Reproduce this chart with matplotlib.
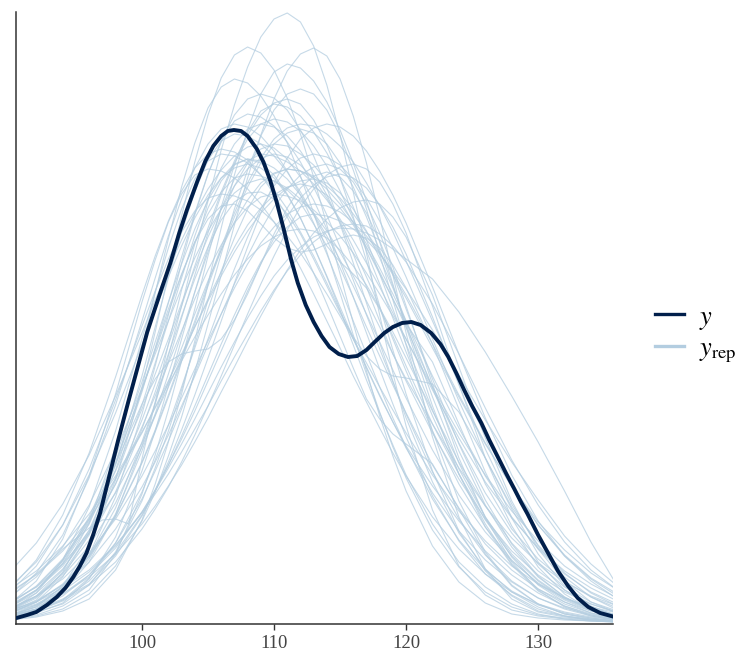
import matplotlib
matplotlib.use("Agg")
import matplotlib.pyplot as plt
from matplotlib.lines import Line2D

# densities are in units of 1e-4
# observed y
y_x = [90.5, 91.3, 92.0, 92.8, 93.55, 94.2, 94.8, 95.3, 95.8, 96.3, 96.83, 97.6, 98.2, 99.0,
       99.7, 100.4, 101.3, 102.15, 102.8, 103.4, 104.2, 104.8, 105.4, 106.0, 106.5, 106.96,
       107.5, 108.0, 108.7, 109.2, 109.7, 110.2, 110.75, 111.3, 111.8, 112.4, 113.0, 113.6,
       114.2, 114.9, 115.6, 116.3, 117.0, 117.7, 118.35, 119.0, 119.7, 120.4, 121.1, 121.9,
       122.6, 123.2, 123.8, 124.4, 125.0, 125.7, 126.3, 126.95, 127.6, 128.2, 128.7, 129.2,
       130.0, 130.75, 131.5, 132.27, 133.0, 133.8, 134.7, 135.8]
y_dens = [6, 9, 12, 19, 27, 36, 47, 58, 71, 89, 111, 152, 184, 224,
          258, 292, 328, 361, 390, 414, 443, 463, 478, 488, 493, 494,
          493, 488, 475, 462, 444, 422, 394, 364, 341, 319, 302, 288,
          277, 270, 267, 268, 274, 283, 291, 297, 301, 302, 299, 291,
          280, 267, 251, 234, 218, 201, 184, 167, 150, 135, 122, 110,
          89, 71, 53, 38, 26, 17, 11, 7]

# shared grid for the replicated densities
grid_x = [90, 92, 94, 96, 98, 100, 101, 102, 103, 104, 105, 106, 107, 108, 109, 110, 111,
          112, 113, 114, 115, 116, 117, 118, 119, 120, 122, 124, 126, 128, 130, 132, 134, 136]

rep01 = [7,15,32,62,109,178,220,268,318,371,423,474,519,557,587,605,611,602,578,539,489,432,371,309,251,198,114,58,29,14,8,5,3,2]
rep02 = [9,17,38,78,144,237,292,350,408,462,509,546,569,577,571,554,526,490,447,399,350,301,253,208,168,133,78,42,21,10,6,4,3,2]
rep03 = [5,8,15,30,58,103,132,168,207,252,300,349,399,446,489,525,553,570,576,568,545,508,461,407,349,291,187,107,55,25,12,7,4,2]
rep04 = [13,28,54,94,154,232,276,321,367,411,450,483,509,525,530,526,514,494,468,436,400,361,321,281,243,206,142,91,55,32,17,8,4,2]
rep05 = [9,19,37,68,116,182,221,263,306,349,391,429,461,485,500,505,502,493,478,458,433,405,373,340,306,272,208,150,104,68,43,25,14,8]
rep06 = [17,31,55,91,140,204,240,279,318,358,396,432,463,489,509,521,525,520,504,479,446,407,363,318,274,230,153,93,53,28,13,8,5,3]
rep07 = [8,15,34,69,127,210,258,309,361,409,450,482,503,510,507,498,482,462,437,409,377,344,309,275,242,210,152,105,69,43,26,15,8,4]
rep08 = [11,22,47,91,159,248,297,346,392,432,464,483,490,488,480,468,452,432,409,384,356,327,297,268,239,211,159,116,80,54,35,22,13,8]
rep09 = [11,22,39,67,107,161,192,227,263,300,338,374,407,437,461,480,491,495,491,480,461,437,407,374,338,300,227,161,107,67,39,22,11,5]
rep10 = [8,18,35,65,110,173,210,250,291,332,372,408,438,461,475,480,478,470,459,443,424,401,376,350,325,300,262,200,140,95,65,43,27,16]
rep11 = [13,31,64,117,193,285,332,376,415,445,463,470,468,461,449,434,415,392,368,341,313,285,257,229,202,176,131,93,64,42,26,16,9,5]
rep12 = [6,11,21,45,87,153,193,238,285,332,376,415,445,463,470,468,462,453,440,424,405,384,361,337,311,285,234,186,142,106,76,53,36,23]
rep13 = [8,15,28,49,81,125,153,183,215,250,285,321,355,387,415,438,455,466,470,467,459,445,426,403,376,347,285,223,166,117,79,51,31,18]
rep14 = [13,23,39,62,95,137,162,189,218,248,279,310,340,368,394,417,435,449,457,460,455,442,420,391,357,318,240,166,106,62,34,17,8,4]
rep15 = [17,34,63,107,167,242,282,322,360,395,424,446,460,465,463,456,445,429,410,388,364,338,310,282,254,226,174,129,92,63,41,26,16,9]
rep16 = [15,27,48,78,121,177,208,242,276,310,343,374,402,424,441,451,455,453,446,435,420,402,380,356,330,303,248,196,148,107,75,50,32,20]
rep17 = [20,43,85,148,230,322,364,402,430,449,455,453,446,435,420,402,380,356,330,303,276,248,222,196,171,148,107,75,50,32,20,12,7,4]
rep18 = [19,34,58,93,140,197,228,261,293,325,354,379,401,417,427,430,428,423,414,402,388,371,351,330,308,285,237,191,149,113,83,58,40,26]
rep19 = [22,37,60,91,131,181,209,237,267,297,325,352,377,399,416,429,437,440,437,429,416,399,377,352,325,297,237,181,131,91,60,37,22,13]
rep20 = [26,51,89,146,219,303,346,388,425,456,480,495,500,497,488,473,453,429,401,370,337,303,270,237,206,177,125,84,54,33,19,11,6,3]
rep21 = [9,17,30,49,76,112,134,159,185,213,243,273,303,333,360,386,408,426,439,447,450,446,436,419,397,370,307,239,175,120,78,47,27,14]
rep22 = [27,47,77,119,173,236,270,303,336,366,393,415,431,441,445,443,436,425,411,393,372,348,323,297,270,243,191,145,105,73,49,32,20,12]
rep23 = [16,28,45,71,105,148,173,199,226,255,283,310,336,360,381,397,410,417,420,418,412,402,388,371,351,329,280,229,181,137,99,69,46,30]
rep24 = [35,64,109,171,247,329,368,403,433,456,470,475,472,464,449,430,407,380,351,320,288,256,225,205,190,180,160,115,70,38,20,10,5,3]
rep25 = [11,19,30,47,70,100,118,138,159,182,206,232,257,283,308,332,354,374,391,405,416,422,424,420,407,387,329,257,186,123,75,43,22,11]
rep26 = [20,38,65,105,160,220,245,262,270,273,275,285,304,330,360,390,416,436,448,452,447,433,411,383,350,315,245,180,124,80,48,27,14,7]
rep28 = [12,20,33,52,78,112,133,156,180,205,231,257,282,306,328,348,364,377,387,393,396,395,391,384,375,365,345,312,272,228,182,133,82,38]
rep29 = [5,9,18,34,70,130,169,214,263,315,368,417,459,492,513,520,517,508,492,471,446,417,384,350,315,280,214,155,107,70,44,26,15,8]
rep30 = [35,53,78,110,148,192,216,240,263,287,309,330,349,365,378,387,393,395,393,386,374,358,339,316,292,266,213,162,118,81,53,34,20,11]
rep31 = [14,22,36,54,79,111,130,150,172,195,218,243,267,290,313,334,353,369,382,392,398,400,398,390,378,362,320,270,216,164,119,82,54,34]
rep32 = [12,24,52,101,177,276,331,385,437,481,516,537,545,541,528,508,481,448,411,372,331,289,250,212,177,146,94,57,32,17,9,6,4,2]
rep33 = [8,14,24,46,81,132,164,199,237,276,315,353,386,415,437,450,455,453,448,438,426,410,392,372,349,326,276,227,180,138,102,74,51,34]
rep34 = [13,26,51,89,146,219,261,303,346,388,425,456,480,495,500,497,488,473,453,429,401,370,337,303,270,245,200,150,100,60,35,20,11,6]
rep35 = [7,13,24,43,71,109,133,159,188,218,249,280,309,337,362,382,397,407,410,408,403,395,384,370,353,335,294,249,204,162,124,88,60,38]
rep36 = [37,62,99,149,211,279,314,347,378,406,429,446,456,460,456,446,429,406,378,347,314,279,244,211,179,149,100,62,37,20,10,5,3,2]
rep37 = [15,28,50,84,132,195,232,270,308,345,377,404,422,431,432,425,410,390,365,338,311,287,268,255,248,246,240,212,166,115,70,38,18,8]
rep38 = [7,12,20,39,72,123,156,193,234,279,324,370,415,454,488,514,530,535,530,514,488,454,415,370,324,279,193,123,72,39,20,10,6,3]
rep39 = [32,58,99,155,224,298,333,365,392,413,426,430,428,423,414,402,388,371,351,330,308,285,261,237,214,191,149,113,83,58,40,26,17,11]
rep40 = [9,15,25,40,68,108,134,162,194,229,266,303,341,377,411,441,466,485,496,500,497,488,473,453,429,401,337,270,206,149,103,68,43,25]
rep41 = [21,37,64,102,153,215,250,285,321,355,387,415,438,455,466,470,467,459,445,426,403,376,347,317,285,253,193,140,97,64,40,24,13,7]
rep42 = [17,33,61,104,162,234,273,311,349,382,410,432,446,450,448,443,434,421,400,378,362,350,336,315,288,258,200,156,118,86,61,42,28,18]
rep43 = [4,7,13,25,54,104,140,182,230,283,340,396,449,494,530,552,560,556,543,522,494,461,423,382,340,297,218,150,97,59,33,18,9,4]
rep44 = [32,49,73,105,145,191,217,243,270,297,323,348,372,393,411,425,436,443,445,441,431,415,393,366,336,303,236,173,119,77,47,27,14,7]
rep45 = [52,81,120,169,228,291,324,355,384,411,435,454,468,477,480,476,465,447,424,395,362,327,291,255,220,187,128,83,50,29,15,8,4,2]
rep46 = [11,22,40,68,108,162,194,229,266,303,341,377,411,441,466,485,496,500,498,490,478,462,441,418,392,363,303,244,188,139,99,68,45,28]
rep47 = [18,34,60,100,160,235,275,315,350,382,405,418,420,413,400,386,376,372,374,380,386,389,386,376,359,336,280,215,152,98,57,30,14,6]
rep48 = [7,13,23,39,62,95,115,137,162,189,218,248,279,310,340,368,394,417,435,449,457,460,455,442,420,391,318,240,166,106,62,34,17,8]

# one replicate with a dip near 99, read on its own x positions
rep27_x = [90, 92, 94, 96, 97, 98, 99, 100, 101, 102, 103, 104, 105, 106, 107, 108, 109, 110,
           111, 112, 113, 114, 115, 116, 117, 118, 119, 120, 122, 124, 126, 128, 130, 132, 134, 136]
rep27 = [30, 50, 75, 96, 104, 105, 100, 165, 222, 280, 334, 380, 416, 443, 459, 465, 461, 449,
         430, 406, 378, 348, 317, 286, 256, 228, 202, 178, 138, 103, 73, 49, 31, 18, 10, 5]

yrep_grid = [rep01, rep02, rep03, rep04, rep05, rep06, rep07, rep08, rep09, rep10,
             rep11, rep12, rep13, rep14, rep15, rep16, rep17, rep18, rep19, rep20,
             rep21, rep22, rep23, rep24, rep25, rep26, rep28, rep29, rep30, rep31,
             rep32, rep33, rep34, rep35, rep36, rep37, rep38, rep39, rep40, rep41,
             rep42, rep43, rep44, rep45, rep46, rep47, rep48]

x_ticks = [100, 110, 120, 130]

DARK = "#011f4b"
LIGHT = "#b3cde0"
scale = 1e-4

plt.rcParams["font.family"] = ["Liberation Serif", "DejaVu Serif"]
plt.rcParams["mathtext.fontset"] = "stix"

fig = plt.figure(figsize=(7.41, 6.52), dpi=100)
ax = fig.add_axes([16 / 741, 1 - 624 / 652, (613 - 16) / 741, (624 - 12) / 652])

for dens in yrep_grid:
    ax.plot(grid_x, [d * scale for d in dens], color=LIGHT, lw=0.8, alpha=0.75, zorder=1)
ax.plot(rep27_x, [d * scale for d in rep27], color=LIGHT, lw=0.8, alpha=0.75, zorder=1)

ax.plot(y_x, [d * scale for d in y_dens], color=DARK, lw=2.8, zorder=3,
        solid_capstyle="round", solid_joinstyle="round")

ax.set_xlim(90.46, 135.67)
ax.set_ylim(0, 612 * scale)
ax.set_xticks(x_ticks)
ax.set_xticklabels([str(t) for t in x_ticks])
ax.set_yticks([])
for side in ["top", "right"]:
    ax.spines[side].set_visible(False)
for side in ["left", "bottom"]:
    ax.spines[side].set_color("#333333")
    ax.spines[side].set_linewidth(1.1)
ax.tick_params(axis="x", length=4.5, width=1, color="#333333", labelcolor="#444444",
               labelsize=13.5, pad=3.5)

handles = [Line2D([], [], color=DARK, lw=2.4),
           Line2D([], [], color=LIGHT, lw=2.4)]
fig.legend(handles, [r"$y$", r"$y_{\mathrm{rep}}$"], loc="center left",
           bbox_to_anchor=(655 / 741, 1 - 335 / 652), frameon=False,
           fontsize=19, handlelength=1.1, handletextpad=0.55, labelspacing=0.2,
           borderpad=0, borderaxespad=0)

fig.savefig("out.png", dpi=100)
